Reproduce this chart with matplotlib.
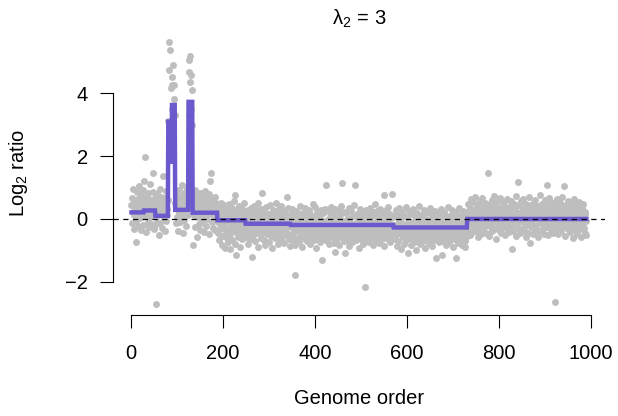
import numpy as np
import matplotlib
matplotlib.use("Agg")
import matplotlib.pyplot as plt

plt.rcParams['font.family'] = ['Liberation Sans', 'DejaVu Sans']
plt.rcParams['mathtext.fontset'] = 'custom'
plt.rcParams['mathtext.rm'] = 'Liberation Sans'
plt.rcParams['mathtext.it'] = 'Liberation Sans'
plt.rcParams['mathtext.bf'] = 'Liberation Sans:bold'

# log2 ratios, probe by probe, in genome order
seg_a = [0.45, -0.12, 0.68, 0.21, 0.95, -0.31, 0.12, 0.55, 0.33, -0.05,
         -0.72, 0.41, 0.87, 0.18, -0.22, 0.63, 0.29, 1.05, 0.02, 0.48,
         -0.35, 0.76, 0.15, 0.39, -0.18, 0.92, 0.57, 0.08, 1.21, 1.97,
         0.26, -0.41, 0.71, 0.11, 0.49, -0.09, 0.83, 0.34, -0.27, 0.62,
         0.05, 1.12, 0.38, -0.15, 0.54, 0.19, 0.87, 1.47, -0.33, 0.42,
         0.09, 0.66, -0.20, -2.70, 0.31, 0.78, -0.08, 0.47, 0.14, -0.51,
         0.58, 0.22, 0.96, -0.12, 0.35, 0.71, -0.28, 0.16, 0.51, 1.35,
         0.04, 0.43, -0.38, 0.67, 0.25, -0.06, 0.88, 0.31, 0.12, 0.59]
spike_1 = [3.10, 4.73, 5.63, 2.90, 5.37, 4.15, 1.90, 3.50, 4.52, 4.25,
           4.89, 3.40, 3.80, 4.25, 3.30]
seg_b = [0.52, -0.14, 0.81, 0.33, 0.07, 0.65, -0.38, 0.44, 0.92, 0.18,
         0.26, -0.09, 0.71, 0.39, 1.08, 0.12, -0.45, 0.58, 0.31, 0.84,
         -0.02, 0.47, 0.23, 0.69, -0.21, 0.36, 0.95, 0.14, 0.51]
spike_2 = [4.68, 3.30, 5.05, 4.36, 5.16, 4.57, 3.50, 4.10, 3.00]
seg_c = [0.35, -0.83, 0.62, 0.14, 0.48, -0.26, 0.91, 0.22, 0.76, -0.58,
         0.41, 0.05, 0.68, -0.17, 0.29, 0.83, 0.12, -0.34, 0.55, 0.19,
         0.72, -0.08, 0.38, 0.61, -0.41, 0.26, 0.88, 0.09, 0.47, -0.22,
         0.34, 0.66, 0.01, 0.53, 0.17, -0.47, 0.79, 1.20, 0.24, 0.43,
         1.46, -0.11, 0.57, 0.31, -0.29, 0.64, 0.08, 0.44, -0.36, 0.71,
         0.15, 0.52, -0.06, 0.28]
seg_d = [0.21, -0.45, 0.38, -0.12, -0.67, 0.15, -0.31, 0.52, -0.08, -0.83,
         0.27, -0.22, 0.09, -0.55, 0.43, -0.17, -0.92, 0.06, -0.38, 0.31,
         -0.61, 0.18, -0.04, -0.74, 0.46, -0.28, 0.12, -0.49, -0.96, 0.24,
         -0.13, 0.35, -0.66, 0.02, -0.33, 0.58, -0.21, -0.79, 0.14, 0.76,
         -1.14, -0.41, 0.29, -0.07, -0.58, 0.19, -0.26, 0.41, -0.88, 0.08,
         -0.35, 0.22, -0.14, -0.62, 0.33, -0.03, -0.47, 0.16, 0.52, -0.29, 0.05]
seg_e = [-0.32, 0.18, -0.57, 0.05, -0.21, -0.78, 0.29, -0.11, -0.44, 0.12,
         -0.63, -0.05, 0.36, -0.29, -1.20, -0.16, 0.22, -0.52, -0.08, 0.41,
         -0.37, -0.71, 0.08, -0.24, 0.27, -0.46, -0.13, 0.51, -0.88, -0.19,
         0.14, -0.35, -0.02, -0.59, 0.33, -0.27, 0.81, -0.41, -0.09, 0.23,
         -0.66, -0.18, 0.06, -0.83, -0.31, 0.38, -0.12, -0.49, 0.17, -0.25,
         -0.72, 0.11, -0.38, -0.04, 0.45, -0.55, -0.21, 0.09, -0.93, -0.15,
         0.28, -0.43, -0.07, 0.19, -0.61, -0.28, 0.50, -0.14, -0.37, 0.03,
         -0.81, -0.23, 0.31, -0.47, -0.01, -0.68, 0.16, -0.33, 0.42, -0.11,
         -0.58, 0.07, -0.26, -0.75, 0.24, -0.39, -0.06, 0.13, -0.52, -0.17,
         0.71, -0.44, -0.09, 0.35, -0.62, -0.22, 0.04, -0.86]
seg_f = [-0.24, 0.15, -0.51, -0.09, 0.32, -0.68, -0.18, 0.07, -0.42, -0.83,
         -1.78, -0.12, 0.26, -0.37, -0.05, -0.61, 0.19, -0.29, -0.74, 0.04,
         -0.33, 0.41, -0.16, -0.55, -0.02, -0.88, 0.12, -0.27, -0.46, 0.22,
         -0.14, -0.63, 0.35, -0.38, -0.08, -0.71, 0.09, -0.21, -0.52, 0.28,
         -0.35, -0.11, -0.79, 0.17, -0.44, 0.02, -0.26, -0.58, 0.46, -0.19,
         -0.67, 0.06, -0.31, -0.13, 0.38, -0.49, -0.92, -0.07, 0.21, -0.36,
         -0.15, -0.57, 0.11, -0.28, -0.72, 0.29, -0.04, -0.45, -1.30, -0.23,
         0.18, -0.39, -0.09, -0.64, 0.33, -0.17, -0.51, 1.08, -0.26, -0.03,
         -0.69, 0.24, -0.34, -0.12, -0.81, 0.07, -0.22, -0.47, 0.39, -0.18,
         -0.56, -0.01, -0.29, 0.16, -0.75, -0.37, -1.04, 0.31, -0.14, -0.43,
         0.05, -0.62, -0.25, 0.27, -0.09, -0.84, -0.33, 0.13, -0.48, -0.16,
         0.42, -0.27, 1.14, -0.58, -0.06, -0.71, 0.22, -0.35, -1.08, -0.11,
         -0.44, 0.19, -0.23, -0.66, 0.03, -0.31, -0.87, 0.35, -0.19, -0.52,
         -0.08, 0.26, -0.41, -0.73, -0.15, 0.11, -0.36, -0.59, 0.44, -0.21,
         1.08, -0.47, -0.12, -0.68, 0.17, -0.29, -0.04, -0.55, -0.91, 0.08,
         -0.33, 0.31, -0.18, -0.62, -0.07, 0.23, -0.45, -0.26, -0.78, 0.12,
         -0.39, 0.04, -2.16, -0.53, 0.28, -0.14, -0.67, -0.32, 0.15, -0.49,
         -0.02, -0.74, 0.36, -0.24, -0.57, 0.09, -0.38, -0.11, -0.82, 0.21,
         -0.28, -0.61, 0.14, -0.43, 0.47, -0.17, -0.69, -0.05, 0.26, -0.36,
         -0.52, 0.02, -0.22, -0.76, 0.33, -0.41, -0.13, 0.18, -0.64, -0.27,
         -0.06, -0.48, 0.76, -0.31, -0.85, 0.11, -0.19, -0.56, 0.29, -0.37,
         -0.09, 0.38, -0.63, -0.25, -0.01, -0.72, 0.16, -0.44, -0.15, -0.58,
         0.79, -0.34, 0.07, -0.21]
seg_g = [-0.41, 0.08, -0.63, -0.19, 0.27, -0.52, -0.33, -0.86, 0.14, -0.25,
         -0.71, -0.07, 0.35, -0.46, -0.28, -0.94, 0.02, -0.38, -0.15, 0.21,
         -0.57, -0.31, -0.79, 0.11, -0.22, -0.48, 0.39, -0.66, -0.12, -0.35,
         0.05, -1.08, -0.43, -0.18, 0.24, -0.61, -0.29, -0.84, 0.16, -0.37,
         -0.09, -0.55, 0.31, -0.26, -0.73, -0.14, 0.09, -0.47, -0.98, -0.21,
         0.18, -0.39, -0.62, -0.03, -0.31, 0.42, -0.54, -0.17, -0.81, 0.07,
         -0.28, -0.45, 0.13, -0.69, -0.11, -0.36, 0.29, -0.58, -0.23, -0.92,
         0.01, -0.34, -0.64, 0.22, -0.19, -0.51, -0.06, -0.77, 0.34, -0.27,
         -0.42, -0.13, 0.17, -0.59, -0.86, -0.24, 0.06, -0.38, -0.67, 0.26,
         -0.16, -0.48, -0.02, -1.25, -0.31, 0.12, -0.55, -0.21, -0.74, 0.19,
         -0.37, -0.08, -0.62, 0.32, -1.15, -0.26, -0.44, 0.04, -0.71, -0.14,
         0.23, -0.52, -0.29, -0.83, 0.11, -0.35, -0.05, -0.61, 0.37, -0.19,
         -0.46, -0.72, 0.08, -0.28, -0.57, -0.12, 0.28, -0.39, -0.88, -0.01,
         -0.24, 0.15, -0.65, -0.33, -0.09, -1.25, 0.21, -0.47, -0.18, -0.76,
         0.03, -0.41, -0.27, 0.36, -0.63, -0.15, -0.53, 0.09, -0.34, -0.82,
         -0.07, 0.25, -0.44, -0.21, -0.69, -0.88, 0.12, -0.32, -0.58, -0.11]
seg_h = [0.21, -0.34, 0.47, 0.05, -0.18, 0.36, -0.52, 0.13, 0.62, -0.09,
         0.28, -0.41, 0.09, 0.54, -0.23, 0.17, -0.06, 0.71, -0.37, 0.32,
         -0.14, 0.45, 0.02, -0.58, 0.26, 0.11, -0.29, 0.58, -0.03, 0.39,
         -0.47, 0.19, 0.66, -0.12, 0.07, -0.35, 0.43, 0.24, -0.21, 0.52,
         0.01, -0.44, 0.33, 0.14, -0.16, 1.46, -0.07, 0.38, -0.55, 0.22,
         0.48, -0.26, 0.06, 0.61, -0.39, 0.17, -0.11, 0.35, 0.72, -0.31,
         0.12, -0.05, 0.44, -0.62, 0.27, 0.03, -0.22, 0.56, 0.15, -0.36,
         0.31, -0.13, 0.68, 0.08, -0.46, 0.23, -0.02, 0.41, -0.27, 0.18,
         0.53, -0.19, 0.04, -0.51, 0.36, 0.12, -0.33, 0.65, -0.08, 0.25,
         -0.42, 0.39, 0.07, -0.15, 0.58, -0.24, 0.16, -0.95, 0.29, 0.02,
         -0.37, 0.47, 0.11, -0.06, 0.34, -0.53, 0.21, 0.74, -0.17, 0.08,
         1.17, -0.28, 0.43, -0.01, 0.19, -0.45, 0.57, 0.05, -0.32, 0.26,
         0.14, -0.09, 0.62, -0.38, 0.32, 0.01, -0.21, 0.49, -0.56, 0.18,
         0.37, -0.12, 0.06, -0.43, 0.25, 0.69, -0.77, 0.11, -0.25, 0.44,
         -0.04, 0.28, -0.49, 0.15, 0.53, -0.18, 0.09, -0.34, 0.61, 0.03,
         -0.23, 0.41, 0.17, -0.58, 0.33, -0.07, 0.24, -0.39, 0.76, 0.12,
         -0.14, 0.35, -0.02, 0.48, -0.31, 0.07, -0.47, 0.22, 0.59, -0.11,
         0.16, -0.26, 0.42, 1.08, -0.05, 0.31, -0.52, 0.13, 0.67, -0.19,
         0.04, -0.36, 0.27, 0.55, -0.13, 0.19, -0.44, 0.38, 0.01, -0.22,
         0.46, -2.64, 0.09, -0.29, 0.63, 0.18, -0.08, 0.34, -0.48, 0.23,
         -0.17, 0.52, 0.06, -0.38, 0.29, -0.03, 0.71, -0.24, 0.14, 0.40,
         1.05, -0.11, 0.26, -0.54, 0.08, 0.37, -0.19, 0.49, -0.33, 0.12,
         0.58, -0.06, 0.21, -0.42, 0.33, 0.02, -0.27, 0.45, 0.15, -0.61,
         0.27, 0.64, -0.15, 0.09, -0.36, 0.41, -0.04, 0.19, -0.49, 0.31,
         0.07, -0.22, 0.53, 0.16, -0.31, 0.38, -0.09, 0.24, -0.57, 0.11,
         0.35, -0.13, 0.46, -0.28, 0.03, 0.22, -0.44, 0.17, -0.07, -0.52]

# fused lasso fit: last probe index of each constant piece and its level
fit_end = [27, 52, 80, 86, 88, 95, 124, 133, 187, 248, 346, 570, 730, 990]
fit_level = [0.21, 0.27, 0.10, 3.09, 1.82, 3.62, 0.29, 3.72, 0.20,
             -0.04, -0.15, -0.19, -0.27, 0.0]

x_ticks = [0, 200, 400, 600, 800, 1000]
y_ticks = [-2, 0, 2, 4]

ratio = np.concatenate([seg_a, spike_1, seg_b, spike_2, seg_c,
                        seg_d, seg_e, seg_f, seg_g, seg_h])
n = len(ratio)
pos = np.arange(1, n + 1)
lengths = np.diff([0] + fit_end)
fitted = np.repeat(fit_level, lengths)
fit_pos = np.arange(1, len(fitted) + 1)

W, H = 618, 416
fig = plt.figure(figsize=(W / 100, H / 100), dpi=100)
ax = fig.add_axes([113.3 / W, 1 - 314.5 / H, (604.6 - 113.3) / W, (314.5 - 31.2) / H])

ax.plot(pos, ratio, 'o', color='#BEBEBE', markersize=5.0, markeredgewidth=0)
ax.plot(fit_pos, fitted, color='#6A5ACD', linewidth=3.2, solid_joinstyle='miter')
ax.axhline(0, color='black', linewidth=0.9, dashes=(4.2, 3.6))

# R style axis ranges (4% padding)
xpad = 0.04 * (n - 1)
ypad = 0.04 * (ratio.max() - ratio.min())
ax.set_xlim(1 - xpad, n + xpad)
ax.set_ylim(ratio.min() - ypad, ratio.max() + ypad)

for s in ['top', 'right']:
    ax.spines[s].set_visible(False)
ax.spines['left'].set_bounds(min(y_ticks), max(y_ticks))
ax.spines['bottom'].set_bounds(min(x_ticks), max(x_ticks))
for s in ['left', 'bottom']:
    ax.spines[s].set_linewidth(0.8)

ax.set_xticks(x_ticks)
ax.set_yticks(y_ticks)
ax.set_yticklabels(['\u22122', '0', '2', '4'])
ax.tick_params(axis='both', length=9.4, width=0.8, labelsize=14.5)
ax.tick_params(axis='x', pad=12)
ax.tick_params(axis='y', pad=9)

fig.text(359 / W, 1 - 398 / H, 'Genome order', ha='center', va='center', fontsize=14.5)
fig.text(19 / W, 1 - 172.9 / H, r'Log$_2$ ratio', ha='center', va='center',
         rotation=90, fontsize=14.5)
fig.text(359 / W, 1 - 19 / H, r'$\lambda_2\,=\,3$', ha='center', va='center', fontsize=14.5)

fig.savefig('out.png', dpi=100)
